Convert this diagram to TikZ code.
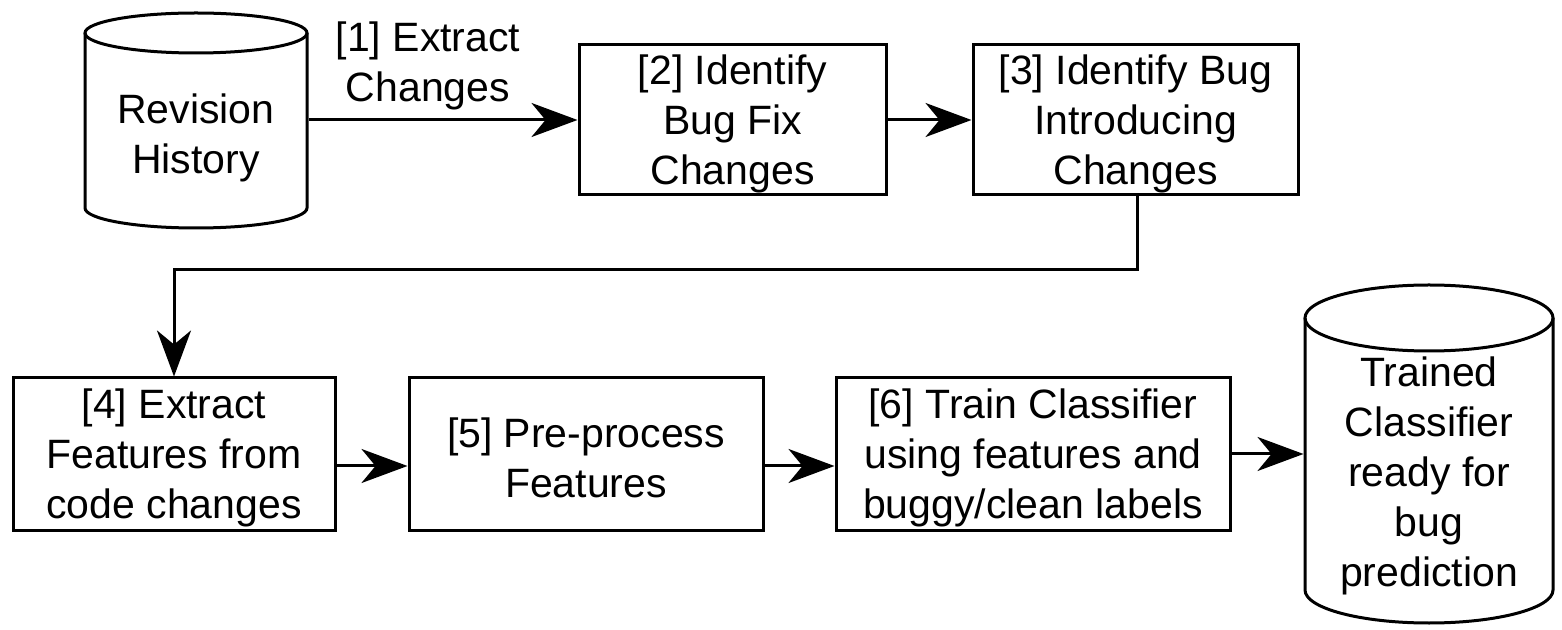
\documentclass[tikz,border=0pt]{standalone}
\usepackage{fontspec}
\setmainfont{Liberation Sans}
\usetikzlibrary{arrows.meta}
\newcommand\dfont{\fontsize{41}{50}\selectfont}
\begin{document}
\begin{tikzpicture}[x=1pt,y=1pt,line width=3pt,
  box/.style={draw,line width=3pt,inner sep=0pt},
  lbl/.style={align=center,inner sep=0pt,font=\dfont},
  arr/.style={-{Stealth[length=46pt,width=34pt,inset=14pt]},line width=3pt}]
\useasboundingbox (0,0) rectangle (1562,629);
% cylinder 1
\draw (85,596) -- (85,421) arc[start angle=180,end angle=360,x radius=111,y radius=20] -- (307,596);
\draw (196,596) ellipse[x radius=111,y radius=20];
\node[lbl,minimum width=222pt,outer sep=1.5pt] (cyl1) at (196,491) {Revision\\History};
% cylinder 2
\draw (1305,311) -- (1305,39) arc[start angle=180,end angle=360,x radius=124,y radius=33] -- (1553,311);
\draw (1429,311) ellipse[x radius=124,y radius=33];
\node[lbl,minimum width=248pt,outer sep=1.5pt] (cyl2) at (1429,153) {Trained\\Classifier\\ready for\\bug\\prediction};
% boxes
\node[box,minimum width=307pt,minimum height=150pt] (box2) at (732.5,509) {};
\node[box,minimum width=325pt,minimum height=150pt] (box3) at (1135.5,509) {};
\node[box,minimum width=322pt,minimum height=152pt] (box4) at (174,175) {};
\node[box,minimum width=354pt,minimum height=152pt] (box5) at (586,175) {};
\node[box,minimum width=394pt,minimum height=152pt] (box6) at (1033,175) {};
\node[lbl] (t2) at ([yshift=-4pt]box2.center) {[2] Identify\\Bug Fix\\Changes};
\node[lbl] (t3) at ([yshift=-4pt]box3.center) {[3] Identify Bug\\Introducing\\Changes};
\node[lbl] (t4) at ([yshift=-4pt]box4.center) {[4] Extract\\Features from\\code changes};
\node[lbl] (t5) at ([yshift=-4pt]box5.center) {[5] Pre-process\\Features};
\node[lbl] (t6) at ([yshift=-4pt]box6.center) {[6] Train Classifier\\using features and\\buggy/clean labels};
% label
\node[lbl] (l1) at (428,563) {[1] Extract\\Changes};
% connectors
\draw[arr] (box2.west -| cyl1.east) -- (box2.west);
\draw[arr] (box2.east) -- (box3.west);
\draw[arr] ([xshift=1.5pt]box3.south) -- ++(0,-73) -| (box4.north);
\draw[arr] ([yshift=-12pt]box4.east) -- ([yshift=-12pt]box5.west);
\draw[arr] ([yshift=-12pt]box5.east) -- ([yshift=-12pt]box6.west);
\draw[arr] (box6.east) -- (box6.east -| cyl2.west);
\end{tikzpicture}
\end{document}
